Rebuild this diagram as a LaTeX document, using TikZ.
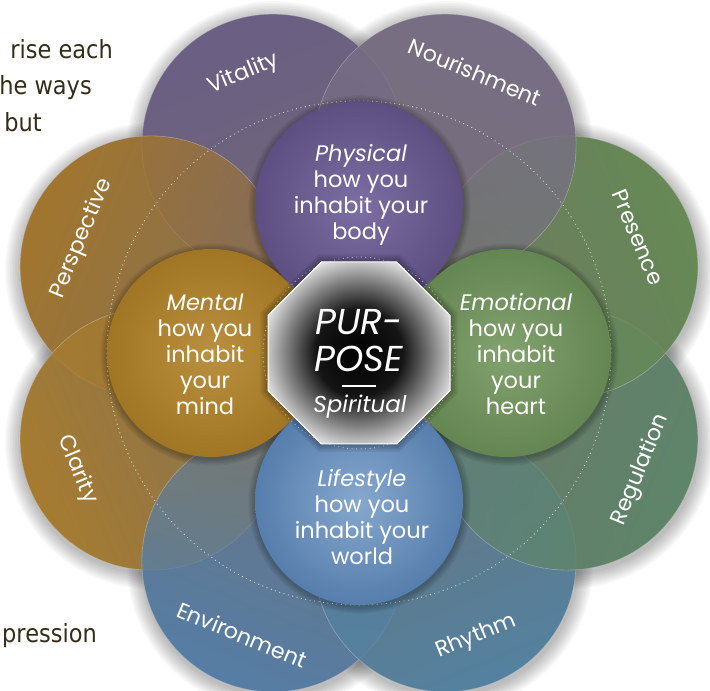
\documentclass[tikz,border=0pt]{standalone}
\usepackage{fontspec}
\setmainfont{Poppins}
\newfontfamily\leftfont{DejaVu Sans}[FakeStretch=0.9]
\usetikzlibrary{calc,shapes.geometric,fadings}

\definecolor{vitc}{RGB}{107,95,133}
\definecolor{nouc}{RGB}{120,110,134}
\definecolor{prec}{RGB}{102,138,86}
\definecolor{regc}{RGB}{94,134,106}
\definecolor{rhyc}{RGB}{84,130,160}
\definecolor{envc}{RGB}{86,126,166}
\definecolor{clac}{RGB}{166,124,48}
\definecolor{perc}{RGB}{162,118,46}
\definecolor{underc}{RGB}{116,110,108}
\definecolor{physin}{RGB}{124,110,162}
\definecolor{physout}{RGB}{94,79,130}
\definecolor{emoin}{RGB}{130,162,110}
\definecolor{emoout}{RGB}{100,134,82}
\definecolor{menin}{RGB}{186,144,64}
\definecolor{menout}{RGB}{160,118,36}
\definecolor{lifin}{RGB}{134,168,206}
\definecolor{lifout}{RGB}{86,126,172}
\definecolor{txtc}{RGB}{50,46,25}
\colorlet{octdark}{black!92}
\colorlet{octmid}{black!50}

\pgfdeclareradialshading{physshade}{\pgfpoint{0bp}{0bp}}{color(0bp)=(physin); color(25bp)=(physout); color(50bp)=(physout)}
\pgfdeclareradialshading{emoshade}{\pgfpoint{0bp}{0bp}}{color(0bp)=(emoin); color(25bp)=(emoout); color(50bp)=(emoout)}
\pgfdeclareradialshading{menshade}{\pgfpoint{0bp}{0bp}}{color(0bp)=(menin); color(25bp)=(menout); color(50bp)=(menout)}
\pgfdeclareradialshading{lifshade}{\pgfpoint{0bp}{0bp}}{color(0bp)=(lifin); color(25bp)=(lifout); color(50bp)=(lifout)}
\pgfdeclareradialshading{octshade}{\pgfpoint{0bp}{0bp}}{color(0bp)=(black); color(12bp)=(octdark); color(20bp)=(octmid); color(29bp)=(white); color(50bp)=(white)}

\tikzfading[name=outfade, top color=transparent!0, bottom color=transparent!62]

\tikzset{
  lefttext/.style={font=\leftfont\fontsize{25}{30}\selectfont, text=txtc, inner sep=0pt, anchor=base east},
  innertext/.style={font=\fontsize{22.5}{26}\selectfont, text=white, inner sep=0pt, anchor=base},
  octtext/.style={text=white, inner sep=0pt, anchor=base},
  outertext/.style={font=\fontsize{22}{22}\selectfont, text=white, inner sep=0pt},
  dotring/.style={white, opacity=0.75, line width=1.2pt, line cap=round, dash pattern=on 0pt off 4.5pt},
}

\begin{document}
\begin{tikzpicture}[x=1pt,y=1pt]
\useasboundingbox (0,0) rectangle (710,691);
\fill[white] (0,0) rectangle (710,691);

% left text fragments
\node[lefttext] (t1) at (113,632) {rise each};
\node[lefttext] (t2) at (92,596) {he ways};
\node[lefttext] (t3) at (42,559) {but};
\node[lefttext] (t4) at (97,48) {pression};

\coordinate (C) at (359,338);
\foreach \n/\a in {vit/112.5, nou/67.5, pre/22.5, reg/-22.5, rhy/-67.5, env/-112.5, cla/-157.5, per/157.5}
  \coordinate (\n) at ($(C)+(\a:225pt)$);
\foreach \n/\a in {phy/90, emo/0, lif/-90, men/180}
  \coordinate (\n) at ($(C)+(\a:148pt)$);

% outer shadow
\foreach \n in {vit,nou,pre,reg,rhy,env,cla,per}
  \foreach \k in {1,...,10}
    \fill[black, opacity=0.028] ($(\n)+(1pt,-3pt)$) circle[radius=131pt+\k*1.6pt];
% underlay
\foreach \n in {vit,nou,pre,reg,rhy,env,cla,per}
  \fill[underc] (\n) circle[radius=131pt];
% outer circles
\foreach \n/\c/\f in {vit/vitc/22.5, per/perc/67.5, cla/clac/-247.5, env/envc/-202.5, rhy/rhyc/-157.5, reg/regc/-112.5, pre/prec/-67.5, nou/nouc/-22.5}{
  \fill[\c, path fading=outfade, fading angle=\f] (\n) circle[radius=131pt];
  \draw[white, opacity=0.3, line width=0.6pt] (\n) circle[radius=131pt];
}

% big dotted ring
\draw[dotring] (C) circle[radius=252pt];

% inner circles
\foreach \n in {phy,emo,lif,men}
  \foreach \k in {1,...,6}
    \fill[black, opacity=0.045] ($(\n)+(0.5pt,-1.5pt)$) circle[radius=104pt+\k*1.2pt];
\shade[shading=physshade] (phy) circle[radius=104pt];
\shade[shading=emoshade] (emo) circle[radius=104pt];
\shade[shading=lifshade] (lif) circle[radius=104pt];
\shade[shading=menshade] (men) circle[radius=104pt];

% small dotted ring
\draw[dotring] (C) circle[radius=96pt];

% octagon shadow
\begin{scope}[shift={(C)}]
  \foreach \k in {1,...,6}{
    \pgfmathsetmacro\rr{98.5+1.4*\k}
    \fill[black, opacity=0.05] (22.5:\rr pt) -- (67.5:\rr pt) -- (112.5:\rr pt) -- (157.5:\rr pt) -- (202.5:\rr pt) -- (247.5:\rr pt) -- (292.5:\rr pt) -- (337.5:\rr pt) -- cycle;
  }
\end{scope}
\node[regular polygon, regular polygon sides=8, minimum size=197pt, inner sep=0pt, shade, shading=octshade, draw=white, line width=1pt] (oct) at (C) {};

% octagon text
\node[octtext, font=\itshape\fontsize{36}{36}\selectfont] (pur) at (359,356) {PUR-};
\node[octtext, font=\itshape\fontsize{36}{36}\selectfont] (pose) at (359,319) {POSE};
\coordinate (barL) at (342,305);
\coordinate (barR) at (376,305);
\draw[white, line width=1.5pt] (barL) -- (barR);
\node[octtext, font=\itshape\fontsize{23}{23}\selectfont] (spir) at (360,278) {Spiritual};

% inner texts
\foreach \t [count=\i] in {\textit{Physical}, how you, inhabit your, body}
  \node[innertext] (phyt\i) at (361,555-26*\i) {\t};
\foreach \t [count=\i] in {\textit{Mental}, how you, inhabit, your, mind}
  \node[innertext] (ment\i) at (205,406-26*\i) {\t};
\foreach \t [count=\i] in {\textit{Emotional}, how you, inhabit, your, heart}
  \node[innertext] (emot\i) at (516,406-26*\i) {\t};
\foreach \t [count=\i] in {\textit{Lifestyle}, how you, inhabit your, world}
  \node[innertext] (lift\i) at (362,230-26*\i) {\t};

% outer labels
\node[outertext, rotate=22.5]  (lvit) at ($(vit)+(112.5:77pt)$) {Vitality};
\node[outertext, rotate=-22.5] (lnou) at ($(nou)+(67.5:79pt)$) {Nourishment};
\node[outertext, rotate=-67.5] (lpre) at ($(pre)+(22.5:77pt)$) {Presence};
\node[outertext, rotate=67.5]  (lper) at ($(per)+(157.5:75pt)$) {Perspective};
\node[outertext, rotate=67.5]  (lreg) at ($(reg)+(-22.5:80pt)$) {Regulation};
\node[outertext, rotate=22.5]  (lrhy) at ($(rhy)+(-67.5:82pt)$) {Rhythm};
\node[outertext, rotate=-22.5] (lenv) at ($(env)+(-112.5:80pt)$) {Environment};
\node[outertext, rotate=-67.5] (lcla) at ($(cla)+(-157.5:80pt)$) {Clarity};
\end{tikzpicture}
\end{document}
